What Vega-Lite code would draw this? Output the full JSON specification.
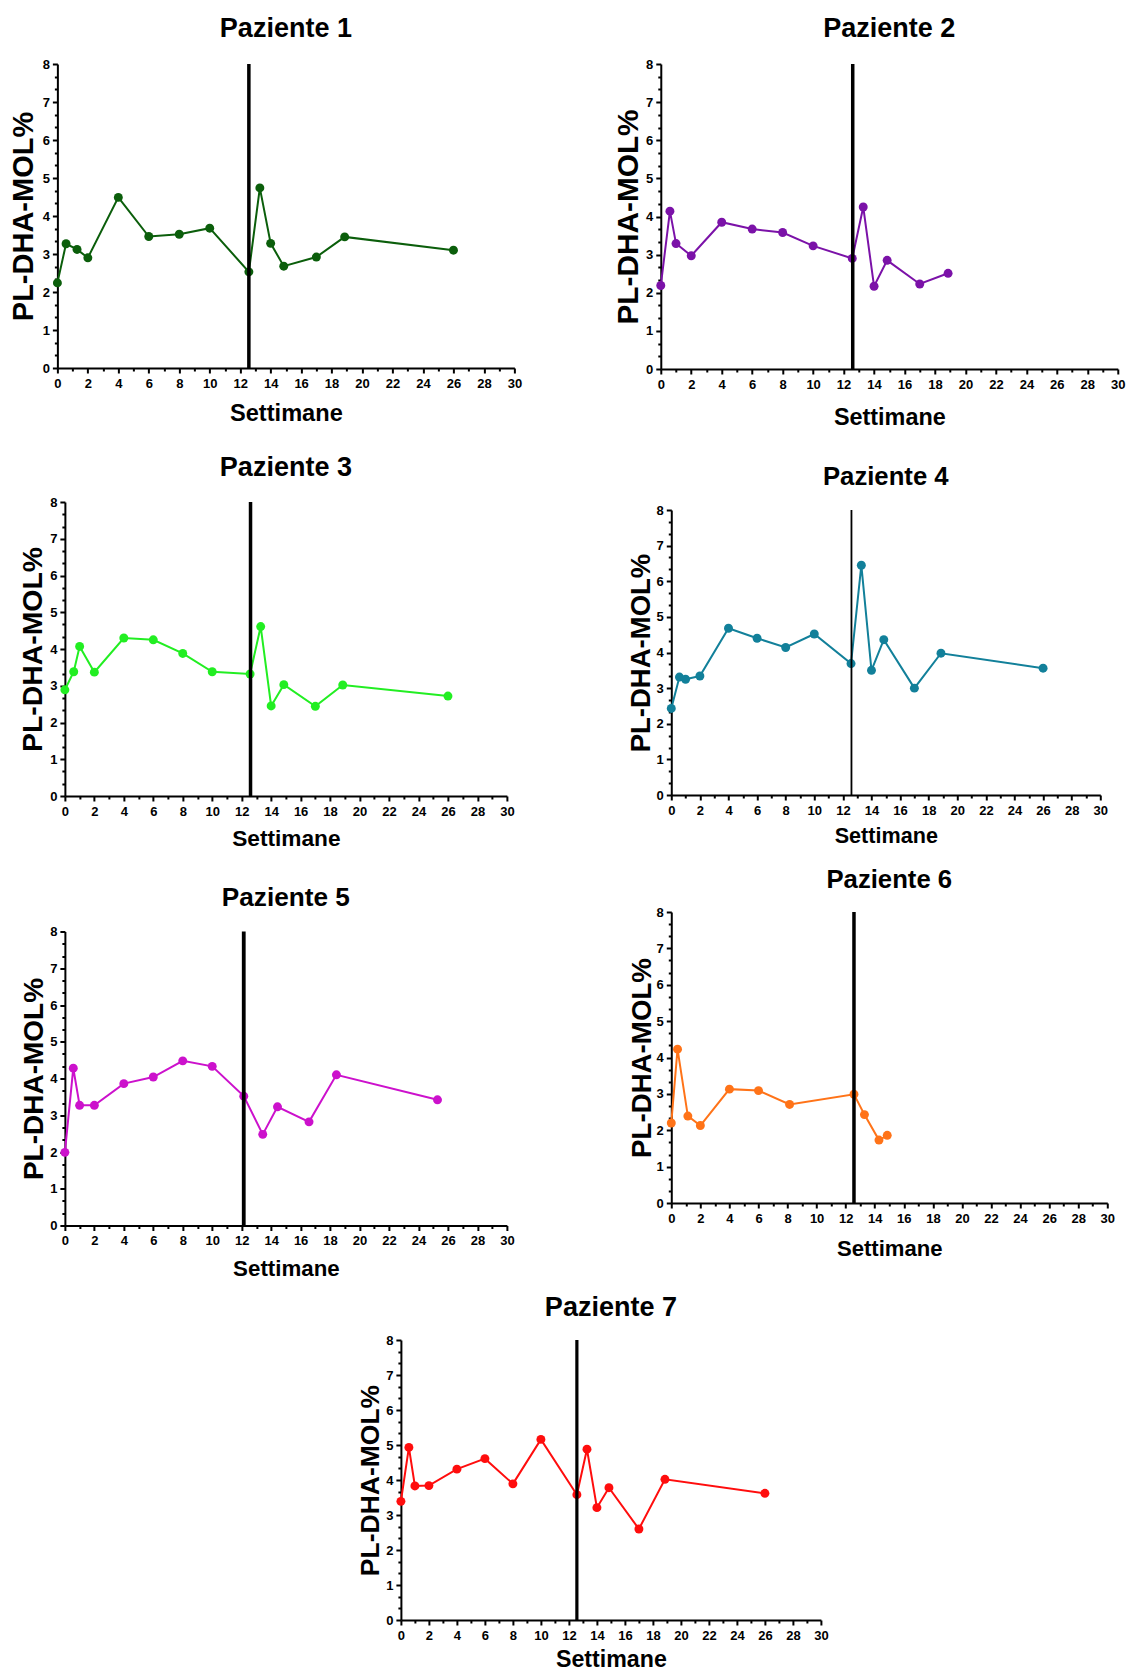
{
  "$schema": "https://vega.github.io/schema/vega-lite/v6.json",
  "padding": {"left": 9, "top": 15, "right": 5, "bottom": 5},
  "background": "white",
  "config": {
    "font": "Liberation Sans",
    "view": {"stroke": null},
    "axis": {"grid": false, "domainColor": "#000", "domainWidth": 2, "tickColor": "#000", "tickWidth": 2, "tickSize": 5,
      "labelColor": "#000", "labelFont": "Liberation Sans", "labelFontSize": 13, "labelFontWeight": "bold",
      "titleColor": "#000", "titleFont": "Liberation Sans", "titleFontWeight": "bold", "labelFlush": false, "labelOverlap": false},
    "axisX": {"labelPadding": 4},
    "axisY": {"labelPadding": 3},
    "title": {"font": "Liberation Sans", "fontWeight": "bold", "color": "#000", "anchor": "middle", "baseline": "alphabetic"}
  },
  "vconcat": [
    {
      "hconcat": [
        {
          "spacing": 28,
          "center": true,
          "vconcat": [
            {
              "width": 457, "height": 304,
              "title": {"text": "Paziente 1", "fontSize": 27, "offset": 14.6},
              "data": {"values": [
                {"settimana": 0, "dha": 2.24}, {"settimana": 0.57, "dha": 3.27}, {"settimana": 1.29, "dha": 3.12}, {"settimana": 2, "dha": 2.9},
                {"settimana": 4, "dha": 4.49}, {"settimana": 6, "dha": 3.46}, {"settimana": 8, "dha": 3.52}, {"settimana": 10, "dha": 3.68},
                {"settimana": 12.57, "dha": 2.53}, {"settimana": 13.29, "dha": 4.74}, {"settimana": 14, "dha": 3.28}, {"settimana": 14.86, "dha": 2.68},
                {"settimana": 17, "dha": 2.92}, {"settimana": 18.86, "dha": 3.45}, {"settimana": 26, "dha": 3.1}
              ]},
              "layer": [
                {"mark": {"type": "line", "color": "#0b5e0b", "strokeWidth": 2},
                 "encoding": {
                   "x": {"field": "settimana", "type": "quantitative", "scale": {"domain": [0, 30], "nice": false}, "axis": {"orient": "bottom", "title": "Settimane", "titleFontSize": 23.6, "titlePadding": 11.6, "values": [0,2,4,6,8,10,12,14,16,18,20,22,24,26,28,30]}},
                   "y": {"field": "dha", "type": "quantitative", "scale": {"domain": [0, 8], "nice": false}, "axis": {"orient": "left", "title": "PL-DHA-MOL%", "titleFontSize": 29, "titlePadding": 4, "values": [0,1,2,3,4,5,6,7,8]}}
                 }},
                {"mark": {"type": "point", "filled": true, "size": 80, "color": "#0b5e0b", "opacity": 1},
                 "encoding": {
                   "x": {"field": "settimana", "type": "quantitative", "axis": null},
                   "y": {"field": "dha", "type": "quantitative", "axis": {"orient": "left", "title": null, "labels": false, "domain": false, "tickSize": 3, "values": [0.333,0.667,1.333,1.667,2.333,2.667,3.333,3.667,4.333,4.667,5.333,5.667,6.333,6.667,7.333,7.667]}}
                 }},
                {"data": {"values": [{"settimana": 12.57}]},
                 "mark": {"type": "rule", "color": "#000", "strokeWidth": 3.5},
                 "encoding": {"x": {"field": "settimana", "type": "quantitative", "axis": {"orient": "bottom", "title": null, "labels": false, "domain": false, "tickSize": 3, "values": [1,3,5,7,9,11,13,15,17,19,21,23,25,27,29]}}}}
              ],
              "resolve": {"axis": {"x": "independent", "y": "independent"}}
            },
            {
              "spacing": 33.5,
              "vconcat": [
                {
                  "width": 442, "height": 294,
                  "title": {"text": "Paziente 3", "fontSize": 27, "offset": 13.7},
                  "data": {"values": [
                    {"settimana": 0, "dha": 2.89}, {"settimana": 0.6, "dha": 3.38}, {"settimana": 1, "dha": 4.07}, {"settimana": 2, "dha": 3.37},
                    {"settimana": 4, "dha": 4.3}, {"settimana": 6, "dha": 4.25}, {"settimana": 8, "dha": 3.88}, {"settimana": 10, "dha": 3.38},
                    {"settimana": 12.57, "dha": 3.32}, {"settimana": 13.29, "dha": 4.61}, {"settimana": 14, "dha": 2.45}, {"settimana": 14.86, "dha": 3.03},
                    {"settimana": 17, "dha": 2.44}, {"settimana": 18.86, "dha": 3.02}, {"settimana": 26, "dha": 2.72}
                  ]},
                  "layer": [
                    {"mark": {"type": "line", "color": "#22ee22", "strokeWidth": 2},
                     "encoding": {
                       "x": {"field": "settimana", "type": "quantitative", "scale": {"domain": [0, 30], "nice": false}, "axis": {"orient": "bottom", "title": "Settimane", "titleFontSize": 22.7, "titlePadding": 9.8, "values": [0,2,4,6,8,10,12,14,16,18,20,22,24,26,28,30]}},
                       "y": {"field": "dha", "type": "quantitative", "scale": {"domain": [0, 8], "nice": false}, "axis": {"orient": "left", "title": "PL-DHA-MOL%", "titleFontSize": 28.4, "titlePadding": 2, "values": [0,1,2,3,4,5,6,7,8]}}
                     }},
                    {"mark": {"type": "point", "filled": true, "size": 80, "color": "#22ee22", "opacity": 1},
                     "encoding": {
                       "x": {"field": "settimana", "type": "quantitative", "axis": null},
                       "y": {"field": "dha", "type": "quantitative", "axis": {"orient": "left", "title": null, "labels": false, "domain": false, "tickSize": 3, "values": [0.333,0.667,1.333,1.667,2.333,2.667,3.333,3.667,4.333,4.667,5.333,5.667,6.333,6.667,7.333,7.667]}}
                     }},
                    {"data": {"values": [{"settimana": 12.6}]},
                     "mark": {"type": "rule", "color": "#000", "strokeWidth": 3.5},
                     "encoding": {"x": {"field": "settimana", "type": "quantitative", "axis": {"orient": "bottom", "title": null, "labels": false, "domain": false, "tickSize": 3, "values": [1,3,5,7,9,11,13,15,17,19,21,23,25,27,29]}}}}
                  ],
                  "resolve": {"axis": {"x": "independent", "y": "independent"}}
                },
                {
                  "width": 442, "height": 294,
                  "title": {"text": "Paziente 5", "fontSize": 26.2, "offset": 14.2},
                  "data": {"values": [
                    {"settimana": 0, "dha": 1.99}, {"settimana": 0.57, "dha": 4.28}, {"settimana": 1, "dha": 3.27}, {"settimana": 2, "dha": 3.27},
                    {"settimana": 4, "dha": 3.86}, {"settimana": 6, "dha": 4.04}, {"settimana": 8, "dha": 4.48}, {"settimana": 10, "dha": 4.33},
                    {"settimana": 12.14, "dha": 3.52}, {"settimana": 13.43, "dha": 2.48}, {"settimana": 14.43, "dha": 3.23}, {"settimana": 16.57, "dha": 2.82},
                    {"settimana": 18.43, "dha": 4.1}, {"settimana": 25.29, "dha": 3.42}
                  ]},
                  "layer": [
                    {"mark": {"type": "line", "color": "#cc11cc", "strokeWidth": 2},
                     "encoding": {
                       "x": {"field": "settimana", "type": "quantitative", "scale": {"domain": [0, 30], "nice": false}, "axis": {"orient": "bottom", "title": "Settimane", "titleFontSize": 22.3, "titlePadding": 9.9, "values": [0,2,4,6,8,10,12,14,16,18,20,22,24,26,28,30]}},
                       "y": {"field": "dha", "type": "quantitative", "scale": {"domain": [0, 8], "nice": false}, "axis": {"orient": "left", "title": "PL-DHA-MOL%", "titleFontSize": 28, "titlePadding": 1, "values": [0,1,2,3,4,5,6,7,8]}}
                     }},
                    {"mark": {"type": "point", "filled": true, "size": 80, "color": "#cc11cc", "opacity": 1},
                     "encoding": {
                       "x": {"field": "settimana", "type": "quantitative", "axis": null},
                       "y": {"field": "dha", "type": "quantitative", "axis": {"orient": "left", "title": null, "labels": false, "domain": false, "tickSize": 3, "values": [0.333,0.667,1.333,1.667,2.333,2.667,3.333,3.667,4.333,4.667,5.333,5.667,6.333,6.667,7.333,7.667]}}
                     }},
                    {"data": {"values": [{"settimana": 12.14}]},
                     "mark": {"type": "rule", "color": "#000", "strokeWidth": 3.8},
                     "encoding": {"x": {"field": "settimana", "type": "quantitative", "axis": {"orient": "bottom", "title": null, "labels": false, "domain": false, "tickSize": 3, "values": [1,3,5,7,9,11,13,15,17,19,21,23,25,27,29]}}}}
                  ],
                  "resolve": {"axis": {"x": "independent", "y": "independent"}}
                }
              ]
            }
          ]
        },
        {
          "spacing": 34,
          "center": true,
          "vconcat": [
            {
              "width": 457, "height": 305,
              "title": {"text": "Paziente 2", "fontSize": 27, "offset": 14.6},
              "data": {"values": [
                {"settimana": 0, "dha": 2.19}, {"settimana": 0.6, "dha": 4.14}, {"settimana": 1, "dha": 3.29}, {"settimana": 2, "dha": 2.97},
                {"settimana": 4, "dha": 3.85}, {"settimana": 6, "dha": 3.67}, {"settimana": 8, "dha": 3.58}, {"settimana": 10, "dha": 3.23},
                {"settimana": 12.57, "dha": 2.9}, {"settimana": 13.29, "dha": 4.25}, {"settimana": 14, "dha": 2.17}, {"settimana": 14.86, "dha": 2.85},
                {"settimana": 17, "dha": 2.23}, {"settimana": 18.86, "dha": 2.51}
              ]},
              "layer": [
                {"mark": {"type": "line", "color": "#7b12a8", "strokeWidth": 2},
                 "encoding": {
                   "x": {"field": "settimana", "type": "quantitative", "scale": {"domain": [0, 30], "nice": false}, "axis": {"orient": "bottom", "title": "Settimane", "titleFontSize": 23.4, "titlePadding": 15.9, "values": [0,2,4,6,8,10,12,14,16,18,20,22,24,26,28,30]}},
                   "y": {"field": "dha", "type": "quantitative", "scale": {"domain": [0, 8], "nice": false}, "axis": {"orient": "left", "title": "PL-DHA-MOL%", "titleFontSize": 29.8, "titlePadding": 2, "values": [0,1,2,3,4,5,6,7,8]}}
                 }},
                {"mark": {"type": "point", "filled": true, "size": 80, "color": "#7b12a8", "opacity": 1},
                 "encoding": {
                   "x": {"field": "settimana", "type": "quantitative", "axis": null},
                   "y": {"field": "dha", "type": "quantitative", "axis": {"orient": "left", "title": null, "labels": false, "domain": false, "tickSize": 3, "values": [0.333,0.667,1.333,1.667,2.333,2.667,3.333,3.667,4.333,4.667,5.333,5.667,6.333,6.667,7.333,7.667]}}
                 }},
                {"data": {"values": [{"settimana": 12.6}]},
                 "mark": {"type": "rule", "color": "#000", "strokeWidth": 3.5},
                 "encoding": {"x": {"field": "settimana", "type": "quantitative", "axis": {"orient": "bottom", "title": null, "labels": false, "domain": false, "tickSize": 3, "values": [1,3,5,7,9,11,13,15,17,19,21,23,25,27,29]}}}}
              ],
              "resolve": {"axis": {"x": "independent", "y": "independent"}}
            },
            {
              "spacing": 20,
              "vconcat": [
                {
                  "width": 429, "height": 285,
                  "title": {"text": "Paziente 4", "fontSize": 25.7, "offset": 13.2},
                  "data": {"values": [
                    {"settimana": 0, "dha": 2.43}, {"settimana": 0.57, "dha": 3.31}, {"settimana": 1, "dha": 3.25}, {"settimana": 2, "dha": 3.34},
                    {"settimana": 4, "dha": 4.68}, {"settimana": 6, "dha": 4.4}, {"settimana": 8, "dha": 4.14}, {"settimana": 10, "dha": 4.52},
                    {"settimana": 12.57, "dha": 3.69}, {"settimana": 13.29, "dha": 6.45}, {"settimana": 14, "dha": 3.5}, {"settimana": 14.86, "dha": 4.36},
                    {"settimana": 17, "dha": 3}, {"settimana": 18.86, "dha": 3.98}, {"settimana": 26, "dha": 3.56}
                  ]},
                  "layer": [
                    {"mark": {"type": "line", "color": "#12809a", "strokeWidth": 2},
                     "encoding": {
                       "x": {"field": "settimana", "type": "quantitative", "scale": {"domain": [0, 30], "nice": false}, "axis": {"orient": "bottom", "title": "Settimane", "titleFontSize": 21.6, "titlePadding": 8.1, "values": [0,2,4,6,8,10,12,14,16,18,20,22,24,26,28,30]}},
                       "y": {"field": "dha", "type": "quantitative", "scale": {"domain": [0, 8], "nice": false}, "axis": {"orient": "left", "title": "PL-DHA-MOL%", "titleFontSize": 27.5, "titlePadding": 1, "values": [0,1,2,3,4,5,6,7,8]}}
                     }},
                    {"mark": {"type": "point", "filled": true, "size": 80, "color": "#12809a", "opacity": 1},
                     "encoding": {
                       "x": {"field": "settimana", "type": "quantitative", "axis": null},
                       "y": {"field": "dha", "type": "quantitative", "axis": {"orient": "left", "title": null, "labels": false, "domain": false, "tickSize": 3, "values": [0.333,0.667,1.333,1.667,2.333,2.667,3.333,3.667,4.333,4.667,5.333,5.667,6.333,6.667,7.333,7.667]}}
                     }},
                    {"data": {"values": [{"settimana": 12.6}]},
                     "mark": {"type": "rule", "color": "#000", "strokeWidth": 1.8},
                     "encoding": {"x": {"field": "settimana", "type": "quantitative", "axis": {"orient": "bottom", "title": null, "labels": false, "domain": false, "tickSize": 3, "values": [1,3,5,7,9,11,13,15,17,19,21,23,25,27,29]}}}}
                  ],
                  "resolve": {"axis": {"x": "independent", "y": "independent"}}
                },
                {
                  "width": 436, "height": 291,
                  "title": {"text": "Paziente 6", "fontSize": 25.7, "offset": 12.2},
                  "data": {"values": [
                    {"settimana": 0, "dha": 2.2}, {"settimana": 0.43, "dha": 4.23}, {"settimana": 1.14, "dha": 2.39}, {"settimana": 2, "dha": 2.13},
                    {"settimana": 4, "dha": 3.13}, {"settimana": 6, "dha": 3.09}, {"settimana": 8.14, "dha": 2.71}, {"settimana": 12.57, "dha": 2.99},
                    {"settimana": 13.29, "dha": 2.43}, {"settimana": 14.29, "dha": 1.73}, {"settimana": 14.86, "dha": 1.86}
                  ]},
                  "layer": [
                    {"mark": {"type": "line", "color": "#ff7318", "strokeWidth": 2},
                     "encoding": {
                       "x": {"field": "settimana", "type": "quantitative", "scale": {"domain": [0, 30], "nice": false}, "axis": {"orient": "bottom", "title": "Settimane", "titleFontSize": 22.1, "titlePadding": 13.2, "values": [0,2,4,6,8,10,12,14,16,18,20,22,24,26,28,30]}},
                       "y": {"field": "dha", "type": "quantitative", "scale": {"domain": [0, 8], "nice": false}, "axis": {"orient": "left", "title": "PL-DHA-MOL%", "titleFontSize": 27.7, "titlePadding": 0, "values": [0,1,2,3,4,5,6,7,8]}}
                     }},
                    {"mark": {"type": "point", "filled": true, "size": 80, "color": "#ff7318", "opacity": 1},
                     "encoding": {
                       "x": {"field": "settimana", "type": "quantitative", "axis": null},
                       "y": {"field": "dha", "type": "quantitative", "axis": {"orient": "left", "title": null, "labels": false, "domain": false, "tickSize": 3, "values": [0.333,0.667,1.333,1.667,2.333,2.667,3.333,3.667,4.333,4.667,5.333,5.667,6.333,6.667,7.333,7.667]}}
                     }},
                    {"data": {"values": [{"settimana": 12.57}]},
                     "mark": {"type": "rule", "color": "#000", "strokeWidth": 3.5},
                     "encoding": {"x": {"field": "settimana", "type": "quantitative", "axis": {"orient": "bottom", "title": null, "labels": false, "domain": false, "tickSize": 3, "values": [1,3,5,7,9,11,13,15,17,19,21,23,25,27,29]}}}}
                  ],
                  "resolve": {"axis": {"x": "independent", "y": "independent"}}
                }
              ]
            }
          ]
        }
      ],
      "spacing": 91.4
    },
    {
      "spacing": 298.9,
      "hconcat": [
        {"width": 1, "height": 1, "data": {"values": []}, "mark": {"type": "point", "opacity": 0}},
        {
          "width": 420, "height": 280,
          "title": {"text": "Paziente 7", "fontSize": 27, "offset": 11.7},
          "data": {"values": [
            {"settimana": 0, "dha": 3.39}, {"settimana": 0.57, "dha": 4.93}, {"settimana": 1, "dha": 3.83}, {"settimana": 2, "dha": 3.84},
            {"settimana": 4, "dha": 4.31}, {"settimana": 6, "dha": 4.61}, {"settimana": 8, "dha": 3.89}, {"settimana": 10, "dha": 5.16},
            {"settimana": 12.57, "dha": 3.58}, {"settimana": 13.29, "dha": 4.88}, {"settimana": 14, "dha": 3.21}, {"settimana": 14.86, "dha": 3.78},
            {"settimana": 17, "dha": 2.6}, {"settimana": 18.86, "dha": 4.02}, {"settimana": 26, "dha": 3.62}
          ]},
          "layer": [
            {"mark": {"type": "line", "color": "#ff0d0d", "strokeWidth": 2},
             "encoding": {
               "x": {"field": "settimana", "type": "quantitative", "scale": {"domain": [0, 30], "nice": false}, "axis": {"orient": "bottom", "title": "Settimane", "titleFontSize": 23.2, "titlePadding": 6.4, "values": [0,2,4,6,8,10,12,14,16,18,20,22,24,26,28,30]}},
               "y": {"field": "dha", "type": "quantitative", "scale": {"domain": [0, 8], "nice": false}, "axis": {"orient": "left", "title": "PL-DHA-MOL%", "titleFontSize": 26.5, "titlePadding": 1, "values": [0,1,2,3,4,5,6,7,8]}}
             }},
            {"mark": {"type": "point", "filled": true, "size": 80, "color": "#ff0d0d", "opacity": 1},
             "encoding": {
               "x": {"field": "settimana", "type": "quantitative", "axis": null},
               "y": {"field": "dha", "type": "quantitative", "axis": {"orient": "left", "title": null, "labels": false, "domain": false, "tickSize": 3, "values": [0.333,0.667,1.333,1.667,2.333,2.667,3.333,3.667,4.333,4.667,5.333,5.667,6.333,6.667,7.333,7.667]}}
             }},
            {"data": {"values": [{"settimana": 12.57}]},
             "mark": {"type": "rule", "color": "#000", "strokeWidth": 3.2},
             "encoding": {"x": {"field": "settimana", "type": "quantitative", "axis": {"orient": "bottom", "title": null, "labels": false, "domain": false, "tickSize": 3, "values": [1,3,5,7,9,11,13,15,17,19,21,23,25,27,29]}}}}
          ],
          "resolve": {"axis": {"x": "independent", "y": "independent"}}
        }
      ]
    }
  ],
  "spacing": 14
}
